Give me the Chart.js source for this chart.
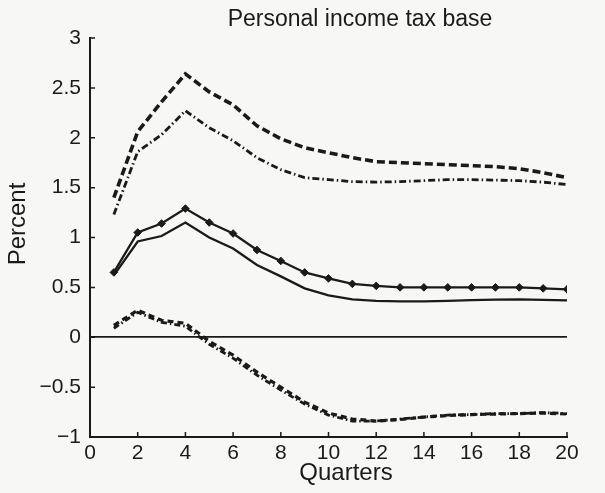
<!DOCTYPE html>
<html>
<head>
<meta charset="utf-8">
<script src="https://cdn.jsdelivr.net/npm/chart.js@4.4.1/dist/chart.umd.min.js"></script>
<style>
  html, body { margin: 0; padding: 0; background: #f7f7f5; }
  #wrap { width: 605px; height: 493px; position: relative; }
</style>
</head>
<body>
<div id="wrap"><canvas id="c" width="605" height="493"></canvas></div>
<script>
// Quarters after the shock
const quarters = [1,2,3,4,5,6,7,8,9,10,11,12,13,14,15,16,17,18,19,20];

// Upper bands
const upperDashed  = [1.40, 2.06, 2.36, 2.64, 2.46, 2.33, 2.12, 1.99, 1.90, 1.85, 1.80, 1.76, 1.75, 1.74, 1.73, 1.72, 1.71, 1.69, 1.65, 1.60];
const upperDashDot = [1.23, 1.86, 2.03, 2.27, 2.10, 1.97, 1.80, 1.68, 1.60, 1.58, 1.56, 1.555, 1.56, 1.57, 1.58, 1.58, 1.575, 1.57, 1.555, 1.53];

// Point responses
const responseMarked = [0.65, 1.05, 1.14, 1.29, 1.15, 1.04, 0.875, 0.765, 0.65, 0.59, 0.535, 0.515, 0.50, 0.50, 0.50, 0.50, 0.50, 0.50, 0.49, 0.48];
const responsePlain  = [0.62, 0.96, 1.015, 1.15, 1.00, 0.89, 0.725, 0.61, 0.49, 0.42, 0.38, 0.365, 0.36, 0.36, 0.365, 0.372, 0.378, 0.38, 0.375, 0.37];

// Lower bands
const lowerDashed  = [0.12, 0.27, 0.17, 0.14, -0.04, -0.18, -0.35, -0.50, -0.65, -0.76, -0.82, -0.84, -0.825, -0.80, -0.785, -0.775, -0.77, -0.765, -0.76, -0.77];
const lowerDashDot = [0.09, 0.25, 0.15, 0.11, -0.07, -0.21, -0.38, -0.53, -0.67, -0.78, -0.84, -0.84, -0.82, -0.80, -0.78, -0.775, -0.765, -0.765, -0.755, -0.765];

// Axis ranges and labels
const xRange = [0, 20];
const yRange = [-1, 3];
const titleText = 'Personal income tax base';
const xTitle = 'Quarters';
const yTitle = 'Percent';

const ink = '#1a1a1a';
const FONT = '"Liberation Sans", Arial, Helvetica, sans-serif';

const pts = vals => quarters.map((q, i) => ({ x: q, y: vals[i] }));

function series(vals, style) {
  return Object.assign({
    data: pts(vals),
    borderColor: ink,
    backgroundColor: ink,
    borderWidth: 2.2,
    pointRadius: 0,
    tension: 0,
    fill: false
  }, style);
}

const datasets = [
  series(upperDashed,  { borderWidth: 3.6, borderDash: [8, 4] }),
  series(upperDashDot, { borderWidth: 2.8, borderDash: [7, 3, 1.5, 3] }),
  series(responseMarked, { borderWidth: 2.3, pointRadius: 3.8, pointStyle: 'rectRot', pointBorderWidth: 1 }),
  series(responsePlain,  { borderWidth: 2.3 }),
  series(lowerDashed,  { borderWidth: 3.2, borderDash: [6, 4] }),
  series(lowerDashDot, { borderWidth: 2.8, borderDash: [6, 3, 1.5, 3] })
];

// Short tick marks pointing into the plot area
const innerTicks = {
  id: 'innerTicks',
  afterDatasetsDraw(chart) {
    const { ctx, scales: { x, y }, chartArea } = chart;
    ctx.save();
    ctx.strokeStyle = ink;
    ctx.lineWidth = 1.5;
    ctx.beginPath();
    x.ticks.forEach(t => {
      const px = x.getPixelForValue(t.value);
      ctx.moveTo(px, chartArea.bottom);
      ctx.lineTo(px, chartArea.bottom - 5);
    });
    y.ticks.forEach(t => {
      const py = y.getPixelForValue(t.value);
      ctx.moveTo(chartArea.left, py);
      ctx.lineTo(chartArea.left + 5, py);
    });
    ctx.stroke();
    ctx.restore();
  }
};

// Title and axis titles
const captions = {
  id: 'captions',
  afterDraw(chart) {
    const { ctx, chartArea: a } = chart;
    ctx.save();
    ctx.fillStyle = ink;
    ctx.textAlign = 'center';
    ctx.textBaseline = 'middle';
    ctx.font = '23px ' + FONT;
    ctx.fillText(titleText, a.left + 270, a.top - 18);
    ctx.font = '24px ' + FONT;
    ctx.fillText(xTitle, a.left + 256, a.bottom + 36);
    ctx.translate(18, a.top + 186);
    ctx.rotate(-Math.PI / 2);
    ctx.fillText(yTitle, 0, 0);
    ctx.restore();
  }
};

const fmt = v => {
  const s = String(Math.round(v * 10) / 10);
  return s.replace('-', '\u2212');
};

new Chart(document.getElementById('c'), {
  type: 'line',
  data: { datasets },
  plugins: [innerTicks, captions],
  options: {
    responsive: false,
    animation: false,
    devicePixelRatio: 1,
    layout: { padding: { left: 0, right: 38, top: 38, bottom: 0 } },
    plugins: { legend: { display: false }, tooltip: { enabled: false }, title: { display: false } },
    scales: {
      x: {
        type: 'linear',
        min: xRange[0], max: xRange[1],
        afterFit(s) { s.height = 56; },
        grid: { display: false, drawTicks: false },
        border: { display: true, color: ink, width: 2 },
        ticks: { stepSize: 2, color: ink, padding: 4, maxRotation: 0, font: { family: FONT, size: 21 }, callback: fmt }
      },
      y: {
        type: 'linear',
        min: yRange[0], max: yRange[1],
        afterFit(s) { s.width = 90; },
        grid: {
          display: true, drawTicks: false,
          color: c => (c.tick && c.tick.value === 0 ? ink : 'rgba(0,0,0,0)'),
          lineWidth: 1.8
        },
        border: { display: true, color: ink, width: 2 },
        ticks: { stepSize: 0.5, color: ink, padding: 9, font: { family: FONT, size: 21 }, callback: fmt }
      }
    }
  }
});
</script>
</body>
</html>
